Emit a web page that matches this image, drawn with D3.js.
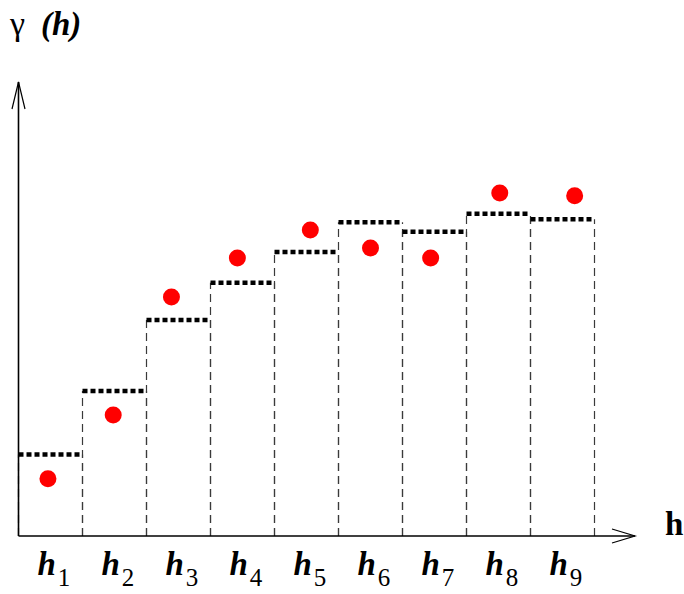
<!DOCTYPE html>
<html>
<head>
<meta charset="utf-8">
<script src="https://cdn.jsdelivr.net/npm/d3@7"></script>
<style>
  body { margin: 0; background: #fff; }
  svg { display: block; }
  text { font-family: "Liberation Serif", "DejaVu Serif", serif; }
</style>
</head>
<body>
<div id="chart"></div>
<script>
// lag classes (bins) and subscript labels
const binLabels = ["1", "2", "3", "4", "5", "6", "7", "8", "9"];
// model / step height of each lag class
const stepValues = [1.81, 3.22, 4.80, 5.63, 6.31, 6.97, 6.76, 7.16, 7.04];
// experimental semivariogram points: lag position and value
const pointLags = [0.46, 1.48, 2.39, 3.42, 4.56, 5.50, 6.44, 7.52, 8.69];
const pointValues = [1.27, 2.69, 5.31, 6.18, 6.80, 6.40, 6.18, 7.62, 7.56];

const width = 684;
const height = 594;
const marginLeft = 18.5;
const marginBottom = 58;

const x = d3.scaleLinear().domain([0, 9]).range([marginLeft, 594.5]);
const y = d3.scaleLinear().domain([0, 10]).range([height - marginBottom, 86]);

const svg = d3.select("#chart").append("svg")
    .attr("width", width)
    .attr("height", height)
    .attr("viewBox", [0, 0, width, height]);

const bins = binLabels.map((d, i) => ({ label: d, i: i, v: stepValues[i] }));

// dashed sides of each lag class
svg.append("g")
    .attr("stroke", "#3a3a3a")
    .attr("stroke-width", 1.2)
    .attr("stroke-dasharray", "8,5")
    .selectAll("line")
    .data(bins.flatMap(b => [{ xv: b.i, v: b.v }, { xv: b.i + 1, v: b.v }]))
    .join("line")
    .attr("x1", d => x(d.xv))
    .attr("x2", d => x(d.xv))
    .attr("y1", y(0))
    .attr("y2", d => y(d.v));

// thick dotted tops
svg.append("g")
    .attr("stroke", "#000")
    .attr("stroke-width", 4.5)
    .attr("stroke-dasharray", "5,3")
    .selectAll("line")
    .data(bins)
    .join("line")
    .attr("x1", d => x(d.i))
    .attr("x2", d => x(d.i + 1))
    .attr("y1", d => y(d.v))
    .attr("y2", d => y(d.v));

// red points
svg.append("g")
    .attr("fill", "#ff0000")
    .selectAll("circle")
    .data(pointLags.map((l, i) => ({ l: l, v: pointValues[i] })))
    .join("circle")
    .attr("cx", d => x(d.l))
    .attr("cy", d => y(d.v))
    .attr("r", 8.5);

// axes with open arrow heads
const axes = svg.append("g")
    .attr("stroke", "#000")
    .attr("stroke-width", 1.6)
    .attr("fill", "none");

const x0 = x(0), y0 = y(0);
const xEnd = 635, yEnd = 82;

axes.append("line").attr("x1", x0).attr("y1", y0).attr("x2", xEnd).attr("y2", y0);
axes.append("line").attr("x1", x0).attr("y1", y0).attr("x2", x0).attr("y2", yEnd);
axes.append("path")
    .attr("stroke-width", 1.2)
    .attr("d", `M${xEnd - 23},${y0 - 7}L${xEnd},${y0}L${xEnd - 23},${y0 + 7}`);
axes.append("path")
    .attr("stroke-width", 1.2)
    .attr("d", `M${x0 - 6.5},${yEnd + 27}L${x0},${yEnd}L${x0 + 6.5},${yEnd + 27}`);

// lag class labels h_1 ... h_9
const labels = svg.append("g")
    .selectAll("text")
    .data(bins)
    .join("text")
    .attr("x", d => x(d.i + 0.5) - 13)
    .attr("y", 575);

labels.append("tspan")
    .attr("font-size", 33)
    .attr("font-weight", "bold")
    .attr("font-style", "italic")
    .text("h");

labels.append("tspan")
    .attr("font-size", 25)
    .attr("dx", 2)
    .attr("dy", 11)
    .text(d => d.label);

// y axis title
const yTitle = svg.append("text")
    .attr("y", 35);
yTitle.append("tspan")
    .attr("x", 10)
    .attr("font-size", 34)
    .text("γ");
yTitle.append("tspan")
    .attr("x", 41)
    .attr("font-size", 33)
    .attr("font-weight", "bold")
    .attr("font-style", "italic")
    .text("(h)");

// x axis title
svg.append("text")
    .attr("x", 665)
    .attr("y", 535)
    .attr("font-size", 33)
    .attr("font-weight", "bold")
    .text("h");
</script>
</body>
</html>
